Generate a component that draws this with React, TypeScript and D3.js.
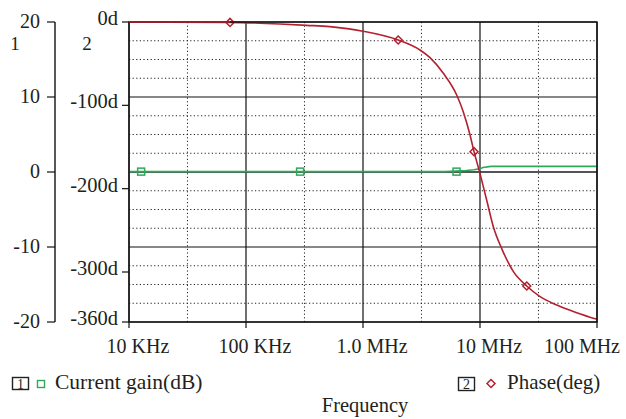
import React from 'react';
import * as d3 from 'd3';

// frequency axis
const freqTicks = [1e4, 1e5, 1e6, 1e7, 1e8];
const freqLabels = ['10 KHz', '100 KHz', '1.0 MHz', '10 MHz', '100 MHz'];
const freqMinor = [3.16e4, 3.16e5, 3.16e6, 3.16e7];

// left axis 1: current gain (dB)
const gainTicks = [20, 10, 0, -10, -20];
const gainTickLabels = ['20', '10', '0', '-10', '-20'];

// left axis 2: phase (deg)
const phaseTicks = [0, -100, -200, -300, -360];
const phaseTickLabels = ['0d', '-100d', '-200d', '-300d', '-360d'];

// current gain trace
const gainFreq = [1e4, 5.0e6, 7.6e6, 8.9e6, 1.0e7, 1.06e7, 1.24e7, 1e8];
const gainDb = [0.05, 0.05, 0.2, 0.3, 0.45, 0.6, 0.75, 0.75];
const gainMarkerFreq = [1.27e4, 2.9e5, 6.3e6];
const gainMarkerDb = [0.05, 0.05, 0.05];

// phase trace
const phaseFreq = [
  1e4, 7.3e4, 1.95e5, 3.3e5, 5.2e5, 1.0e6, 2.0e6, 3.07e6, 3.74e6, 4.86e6, 6.32e6, 7.19e6,
  8.22e6, 8.89e6, 9.9e6, 1.14e7, 1.3e7, 1.53e7, 1.93e7, 2.51e7, 3.26e7, 4.53e7, 6.71e7, 1e8,
];
const phaseDeg = [
  0, -0.5, -2.4, -4, -5.6, -11, -21.6, -33.6, -42.8, -61.6, -87.6, -107.6,
  -135.6, -155.6, -179.6, -213.6, -245.6, -271.6, -299.6, -316.8, -329.6, -339.6, -348.8, -356.8,
];
const phaseMarkerFreq = [7.3e4, 2.0e6, 8.89e6, 2.51e7];
const phaseMarkerDeg = [-0.5, -21.6, -155.6, -316.8];

const W = 626;
const H = 419;
const left = 129;
const right = 597;
const top = 22;
const bottom = 322;
const gainAxisX = 55;

const RED = '#b3202f';
const GREEN = '#2fa85a';
const INK = '#231f20';
const FONT = "'Liberation Serif', 'Times New Roman', 'DejaVu Serif', serif";

export default function App() {
  const x = d3.scaleLog().domain([1e4, 1e8]).range([left, right]);
  const yGain = d3.scaleLinear().domain([20, -20]).range([top, bottom]);
  const yPhase = d3.scaleLinear().domain([0, -360]).range([top, bottom]);

  const gainMinor = d3.range(-17.5, 20, 2.5).filter((v) => v % 10 !== 0);

  const gainLine = d3
    .line<number>()
    .x((_, i) => x(gainFreq[i]))
    .y((d) => yGain(d));
  const phaseLine = d3
    .line<number>()
    .x((_, i) => x(phaseFreq[i]))
    .y((d) => yPhase(d))
    .curve(d3.curveMonotoneX);

  return (
    <svg
      width={W}
      height={H}
      style={{ position: 'absolute', left: 0, top: 0, background: '#fff', fontFamily: FONT }}
    >
      {/* minor grid */}
      {gainMinor.map((v) => (
        <line key={'gm' + v} x1={left} x2={right} y1={yGain(v)} y2={yGain(v)}
          stroke="#222" strokeWidth={1} strokeDasharray="1.2,2.4" />
      ))}
      {freqMinor.map((f) => (
        <line key={'fm' + f} x1={x(f)} x2={x(f)} y1={top} y2={bottom}
          stroke="#222" strokeWidth={1} strokeDasharray="1.2,2.4" />
      ))}
      {/* major grid */}
      {gainTicks.map((v) => (
        <line key={'g' + v} x1={left} x2={right} y1={yGain(v)} y2={yGain(v)}
          stroke={v === 0 ? '#555' : '#111'} strokeWidth={v === 0 ? 2 : 1.2} />
      ))}
      {freqTicks.map((f) => (
        <line key={'f' + f} x1={x(f)} x2={x(f)} y1={top} y2={bottom}
          stroke="#111" strokeWidth={1.2} />
      ))}

      {/* x axis ticks and labels */}
      {freqTicks.map((f) => (
        <line key={'ft' + f} x1={x(f)} x2={x(f)} y1={bottom} y2={bottom + 6} stroke="#111" strokeWidth={1.2} />
      ))}
      {freqLabels.map((t, i) => {
        const last = i === freqLabels.length - 1;
        return (
          <text key={t} x={last ? 620 : x(freqTicks[i]) + 9} y={353} fontSize={20}
            textAnchor={last ? 'end' : 'middle'} fill={INK}>{t}</text>
        );
      })}

      {/* gain axis */}
      <line x1={gainAxisX} x2={gainAxisX} y1={top} y2={bottom} stroke="#111" strokeWidth={1.4} />
      {gainTicks.map((v, i) => (
        <g key={'ga' + v}>
          <line x1={gainAxisX - 8} x2={gainAxisX} y1={yGain(v)} y2={yGain(v)} stroke="#111" strokeWidth={1.2} />
          <text x={40} y={yGain(v) + 6} fontSize={20} textAnchor="end" fill={INK}>{gainTickLabels[i]}</text>
        </g>
      ))}
      <text x={15} y={50} fontSize={19} textAnchor="middle" fill={INK}>1</text>

      {/* phase axis */}
      {phaseTicks.map((v, i) => (
        <g key={'pa' + v}>
          <line x1={left - 7} x2={left} y1={yPhase(v)} y2={yPhase(v)} stroke="#111" strokeWidth={1.2} />
          <text x={118} y={yPhase(v) + 3} fontSize={20.5} textAnchor="end" fill={INK}>{phaseTickLabels[i]}</text>
        </g>
      ))}
      <text x={87} y={50} fontSize={19} textAnchor="middle" fill={INK}>2</text>

      {/* traces */}
      <path d={gainLine(gainDb) || ''} fill="none" stroke={GREEN} strokeWidth={1.6} />
      <path d={phaseLine(phaseDeg) || ''} fill="none" stroke={RED} strokeWidth={1.6} />
      {gainMarkerFreq.map((f, i) => (
        <rect key={'gmk' + i} x={x(f) - 3.5} y={yGain(gainMarkerDb[i]) - 3.5} width={7} height={7}
          fill="none" stroke={GREEN} strokeWidth={1.5} />
      ))}
      {phaseMarkerFreq.map((f, i) => {
        const cx = x(f);
        const cy = yPhase(phaseMarkerDeg[i]);
        return (
          <path key={'pmk' + i} d={`M${cx - 4},${cy} L${cx},${cy - 4} L${cx + 4},${cy} L${cx},${cy + 4} Z`}
            fill="none" stroke={RED} strokeWidth={1.5} />
        );
      })}

      {/* plot frame */}
      <rect x={left} y={top} width={right - left} height={bottom - top} fill="none" stroke="#111" strokeWidth={1.4} />
      <path d={`M${left},${top} L${x(7.3e4)},${top}`} stroke={RED} strokeWidth={1.6} />

      {/* legend */}
      <rect x={12.5} y={377.5} width={16} height={12} fill="none" stroke="#222" strokeWidth={1.4} />
      <text x={20.5} y={388.5} fontSize={14} textAnchor="middle" fill={INK}>1</text>
      <rect x={37.5} y={380.5} width={7} height={7} fill="none" stroke={GREEN} strokeWidth={1.4} />
      <text x={55} y={389} fontSize={21.5} fill={INK}>Current gain(dB)</text>

      <rect x={458.5} y={377.5} width={16} height={13} fill="none" stroke="#222" strokeWidth={1.4} />
      <text x={466.5} y={389} fontSize={14} textAnchor="middle" fill={INK}>2</text>
      <path d="M487,383.5 L491,379.5 L495,383.5 L491,387.5 Z" fill="none" stroke={RED} strokeWidth={1.5} />
      <text x={507} y={389} fontSize={21} fill={INK}>Phase(deg)</text>

      <text x={365} y={412} fontSize={20.5} textAnchor="middle" fill={INK}>Frequency</text>
    </svg>
  );
}
